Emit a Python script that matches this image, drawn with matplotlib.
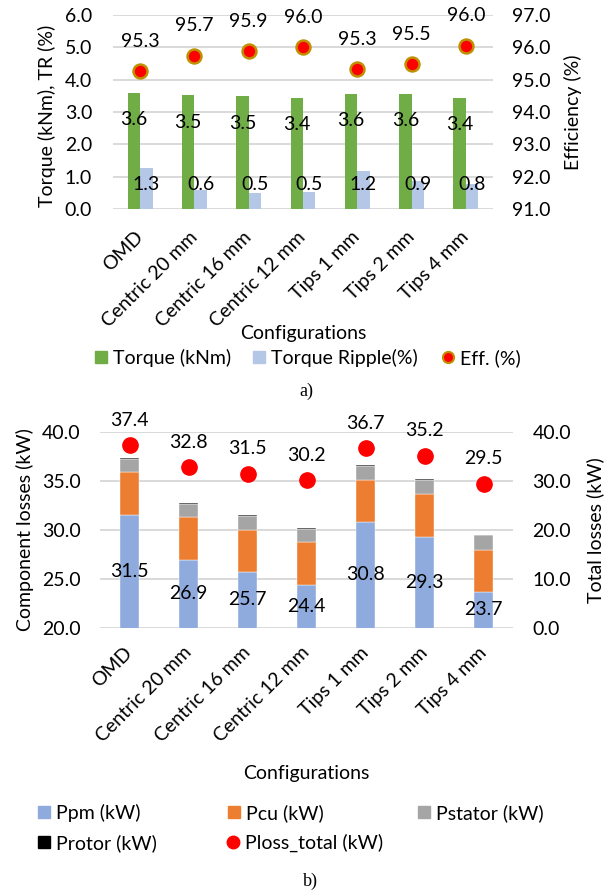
import matplotlib
matplotlib.use("Agg")
import matplotlib.pyplot as plt
import numpy as np
from matplotlib.patches import Patch
from matplotlib.lines import Line2D
from matplotlib.ticker import FormatStrFormatter

plt.rcParams["font.family"] = ["Lato", "DejaVu Sans"]

configs = ["OMD", "Centric 20 mm", "Centric 16 mm", "Centric 12 mm",
           "Tips 1 mm", "Tips 2 mm", "Tips 4 mm"]

# a) torque / ripple / efficiency
torque = [3.58, 3.51, 3.48, 3.44, 3.57, 3.56, 3.42]
ripple = [1.27, 0.60, 0.50, 0.53, 1.18, 0.87, 0.79]
eff = [95.26, 95.74, 95.87, 95.99, 95.32, 95.48, 96.04]

# b) loss breakdown
ppm = [31.5, 26.9, 25.7, 24.4, 30.8, 29.3, 23.7]
pcu = [4.4, 4.4, 4.25, 4.35, 4.35, 4.35, 4.3]
pstator = [1.4, 1.4, 1.45, 1.35, 1.45, 1.5, 1.45]
protor = [0.1, 0.1, 0.1, 0.1, 0.1, 0.05, 0.05]
ploss_total = [37.4, 32.8, 31.5, 30.2, 36.7, 35.2, 29.5]

GREEN = "#70ad47"
LBLUE = "#b4c7e7"
PPM = "#8faadc"
PCU = "#ed7d31"
PST = "#a5a5a5"
GRID = "#d9d9d9"
FS = 14

W, H = 611, 892
fig = plt.figure(figsize=(W / 100, H / 100), dpi=100)


def box(l, t, r, b):
    return [l / W, 1 - b / H, (r - l) / W, (b - t) / H]


def style(ax):
    for s in ax.spines.values():
        s.set_visible(False)
    ax.tick_params(length=0, labelsize=FS)


def legend_entry(h, lx, ly):
    fig.legend(handles=[h], loc="center left", bbox_to_anchor=(lx / W, 1 - ly / H),
               frameon=False, fontsize=FS, handlelength=0.6, handleheight=0.6,
               handletextpad=0.35, borderpad=0, borderaxespad=0)


x = np.arange(len(configs))

# ---------- a) ----------
L1, T1, R1, B1 = 113, 14.7, 493, 209.3
ax1 = fig.add_axes(box(L1, T1, R1, B1))
ax1.set_xlim(-0.5, len(configs) - 0.5)
ax1.set_ylim(0, 6)
ax1.set_yticks(np.arange(0, 6.01, 1))
ax1.yaxis.set_major_formatter(FormatStrFormatter("%.1f"))
ax1.yaxis.grid(True, color=GRID, linewidth=1.4)
ax1.set_axisbelow(True)
bw = 0.23
ax1.bar(x - bw / 2, torque, bw, color=GREEN)
ax1.bar(x + bw / 2, ripple, bw, color=LBLUE)
for xi, t, r in zip(x, torque, ripple):
    ax1.text(xi - bw / 2, t - 0.82, f"{t:.1f}", ha="center", va="center", fontsize=FS)
    ax1.text(xi + bw / 2, 0.75, f"{r:.1f}", ha="center", va="center", fontsize=FS)
style(ax1)
ax1.tick_params(axis="y", pad=15)
ax1.set_xticks(x)
ax1.set_xticklabels(configs, rotation=45, ha="right", va="center", rotation_mode="anchor")
ax1.tick_params(axis="x", pad=18)
ax1.set_ylabel("Torque (kNm), TR (%)", fontsize=FS, va="center")
ax1.yaxis.set_label_coords((47 - L1) / (R1 - L1), 0.48)
ax1.set_xlabel("Configurations", fontsize=FS, va="center")
ax1.xaxis.set_label_coords(0.5, (B1 - 333) / (B1 - T1))

ax2 = ax1.twinx()
ax2.set_ylim(91, 97)
ax2.set_yticks(np.arange(91, 97.01, 1))
ax2.yaxis.set_major_formatter(FormatStrFormatter("%.1f"))
ax2.plot(x, eff, "o", color="#ff0000", markeredgecolor="#bf9000",
         markeredgewidth=1.8, markersize=10, clip_on=False)
for xi, e in zip(x, eff):
    ax2.annotate(f"{e:.1f}", (xi, e), xytext=(0, 21.5), textcoords="offset points",
                 ha="center", va="center", fontsize=FS, annotation_clip=False)
style(ax2)
ax2.tick_params(axis="y", pad=14)
ax2.set_ylabel("Efficiency (%)", fontsize=FS, va="center")
ax2.yaxis.set_label_coords((573 - L1) / (R1 - L1), 0.5)

legend_entry(Patch(color=GREEN, label="Torque (kNm)"), 95, 358)
legend_entry(Patch(color=LBLUE, label="Torque Ripple(%)"), 253, 358)
legend_entry(Line2D([], [], ls="none", marker="o", color="#ff0000",
                    markeredgecolor="#bf9000", markeredgewidth=1.5, markersize=8,
                    label="Eff. (%)"), 442, 358)
fig.text(306 / W, 1 - 391 / H, "a)", ha="center", va="center", fontsize=13,
         family="Liberation Serif")

# ---------- b) ----------
L2, T2, R2, B2 = 100, 432.3, 513, 627.7
ax3 = fig.add_axes(box(L2, T2, R2, B2))
ax3.set_xlim(-0.5, len(configs) - 0.5)
ax3.set_ylim(20, 40)
ax3.set_yticks(np.arange(20, 40.01, 5))
ax3.yaxis.set_major_formatter(FormatStrFormatter("%.1f"))
ax3.yaxis.grid(True, color=GRID, linewidth=1.4)
ax3.set_axisbelow(True)
bw2 = 0.32
bottom = np.zeros(len(configs))
for vals, col in [(ppm, PPM), (pcu, PCU), (pstator, PST), (protor, "black")]:
    ax3.bar(x, vals, bw2, bottom=bottom, color=col, edgecolor="white", linewidth=0.3)
    bottom += np.array(vals)
for xi, p in zip(x, ppm):
    ax3.text(xi, (20 + p) / 2, f"{p:.1f}", ha="center", va="center", fontsize=FS)
style(ax3)
ax3.tick_params(axis="y", pad=14)
ax3.set_xticks(x)
ax3.set_xticklabels(configs, rotation=45, ha="right", va="center", rotation_mode="anchor")
ax3.tick_params(axis="x", pad=16)
ax3.set_ylabel("Component losses (kW)", fontsize=FS, va="center")
ax3.yaxis.set_label_coords((25 - L2) / (R2 - L2), 0.5)
ax3.set_xlabel("Configurations", fontsize=FS, va="center")
ax3.xaxis.set_label_coords(0.5, (B2 - 773) / (B2 - T2))

ax4 = ax3.twinx()
ax4.set_ylim(0, 40)
ax4.set_yticks(np.arange(0, 40.01, 10))
ax4.yaxis.set_major_formatter(FormatStrFormatter("%.1f"))
ax4.plot(x, ploss_total, "o", color="#ff0000", markersize=11, clip_on=False)
for xi, t in zip(x, ploss_total):
    ax4.annotate(f"{t:.1f}", (xi, t), xytext=(0, 18), textcoords="offset points",
                 ha="center", va="center", fontsize=FS, annotation_clip=False)
style(ax4)
ax4.tick_params(axis="y", pad=14)
ax4.set_ylabel("Total losses (kW)", fontsize=FS, va="center")
ax4.yaxis.set_label_coords((595 - L2) / (R2 - L2), 0.5)

legend_entry(Patch(color=PPM, label="Ppm (kW)"), 38, 813)
legend_entry(Patch(color=PCU, label="Pcu (kW)"), 228, 813)
legend_entry(Patch(color=PST, label="Pstator (kW)"), 418, 813)
legend_entry(Patch(color="black", label="Protor (kW)"), 38, 843)
legend_entry(Line2D([], [], ls="none", marker="o", color="#ff0000", markersize=9,
                    label="Ploss_total (kW)"), 227, 843)
fig.text(310 / W, 1 - 881 / H, "b)", ha="center", va="center", fontsize=13,
         family="Liberation Serif")

fig.savefig("out.png", dpi=100)
